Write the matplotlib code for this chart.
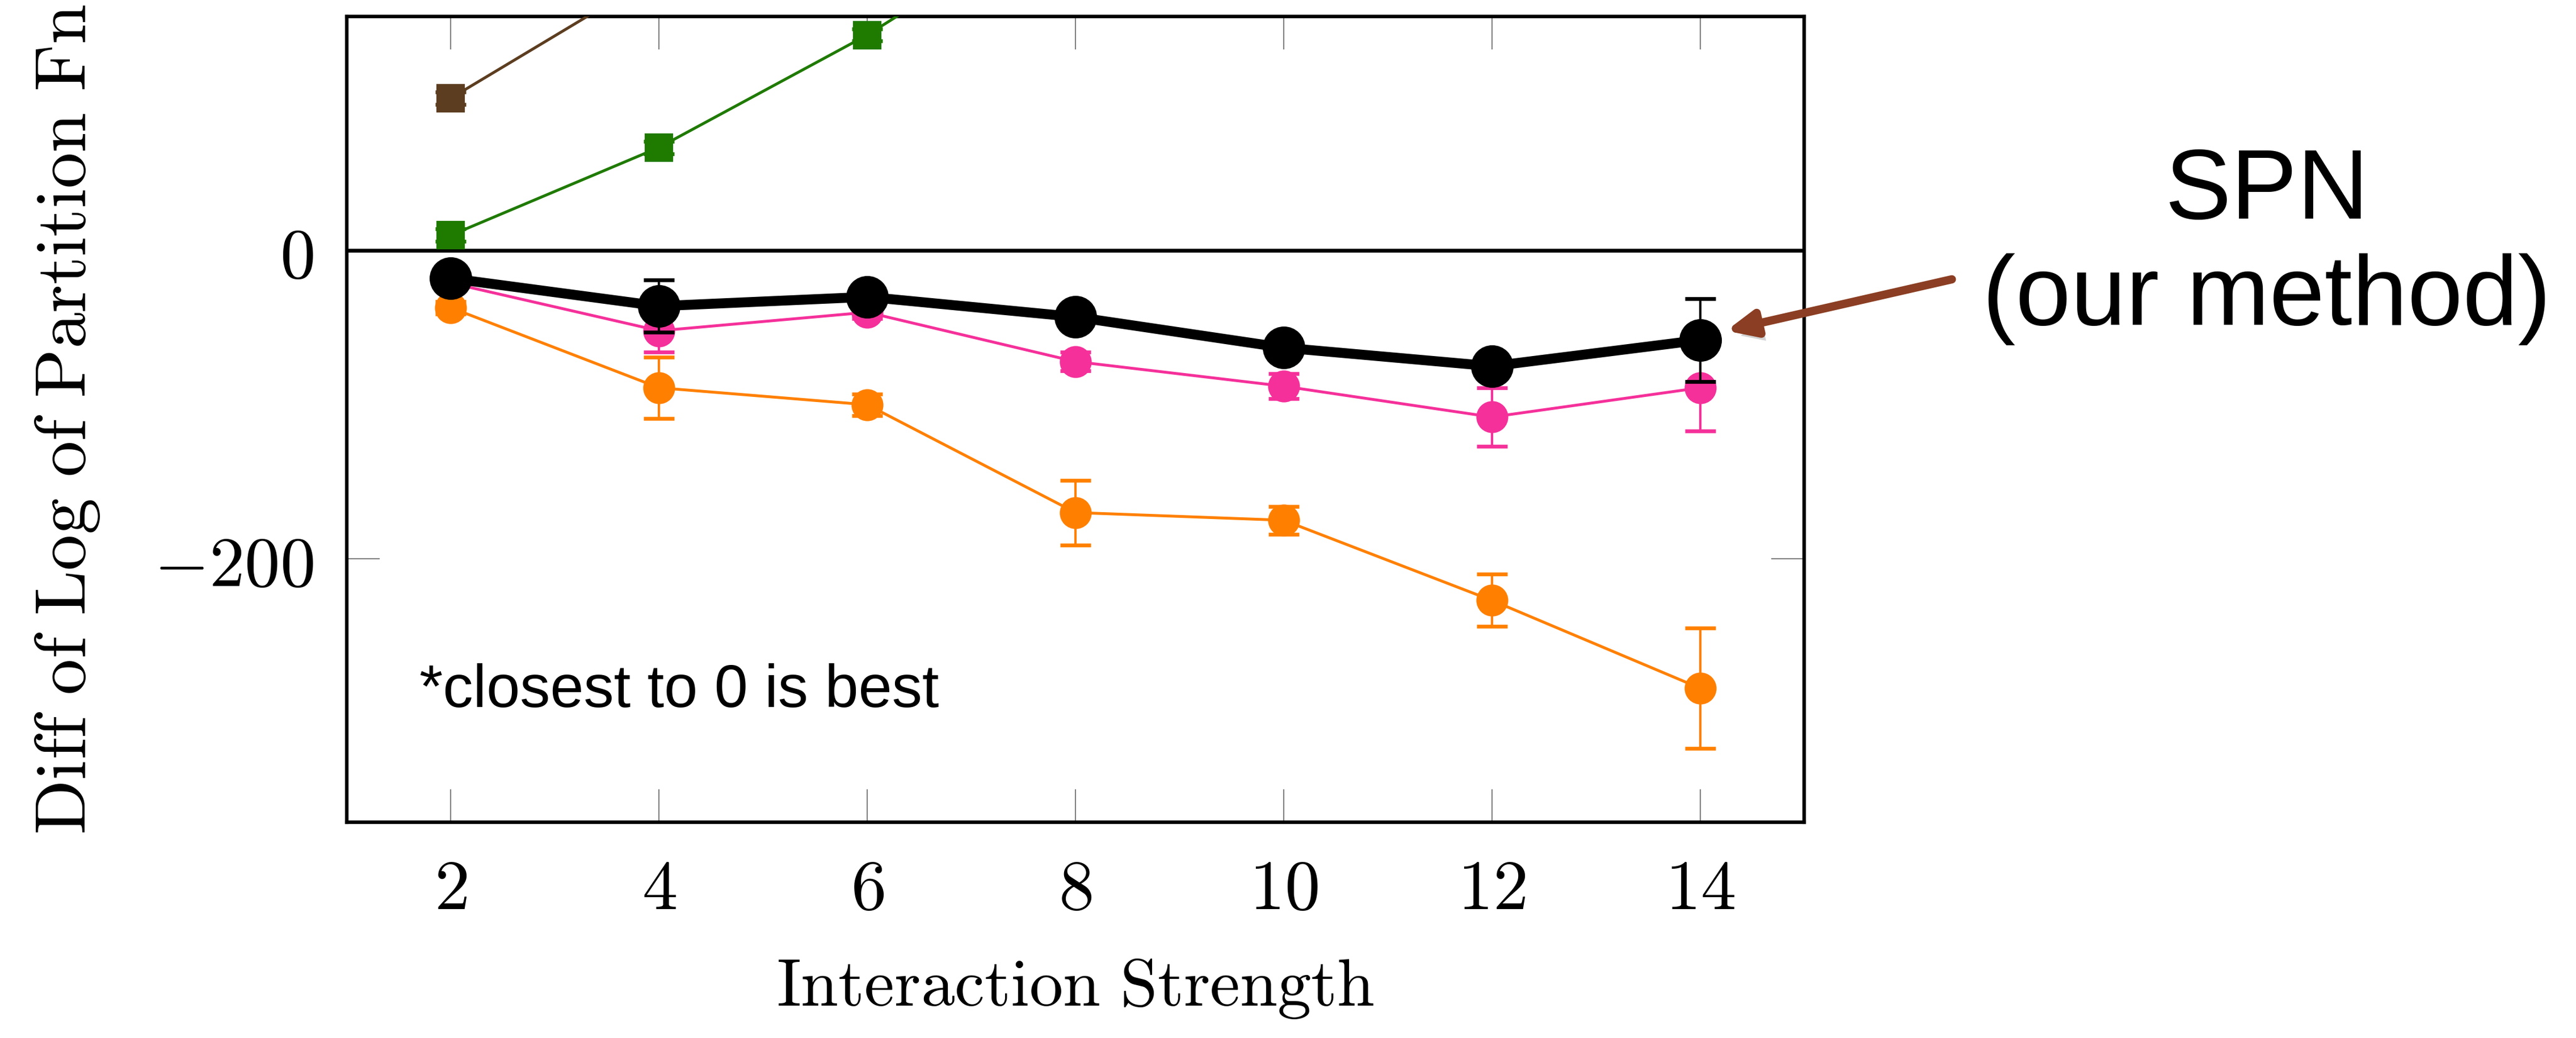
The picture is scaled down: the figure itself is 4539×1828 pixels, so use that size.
import matplotlib.pyplot as plt
import matplotlib.patheffects as pe
import numpy as np

plt.rcParams['mathtext.fontset'] = 'cm'

# data
strength = [2, 4, 6, 8, 10, 12, 14]
spn = [-18, -36, -30, -43, -63, -75, -58]
spn_err = [4, 17, 5, 5, 5, 5, 27]
pink_vals = [-21, -52, -40, -72, -88, -108, -89]
pink_err = [4, 14, 4, 6, 8, 19, 28]
orange_vals = [-37, -89, -100, -170, -175, -227, -284]
orange_err = [4, 20, 7, 21, 9, 17, 39]
green_x = [2, 4, 6, 8]
green_vals = [10, 67, 140, 225]
green_err = [4, 4, 4, 4]
brown_x = [2, 4]
brown_vals = [99, 180]
brown_err = [4, 4]

xticks = [2, 4, 6, 8, 10, 12, 14]
yticks = [-200, 0]

fig = plt.figure(figsize=(4539 / 300, 1828 / 300), dpi=300)
ax = fig.add_axes([0.1346, 0.2079, 0.7004 - 0.1346, 0.9841 - 0.2079])


def series(x, y, err, color, marker, ms, lw, z):
    line, caps, bars = ax.errorbar(x, y, yerr=err, color=color, marker=marker,
                                   markersize=ms, lw=lw, ecolor=color,
                                   elinewidth=1.0, capsize=6.5, capthick=1.6,
                                   zorder=z)
    for c in caps:
        c.set_color('black')
        c.set_zorder(z - 0.5)
    return line


series(brown_x, brown_vals, brown_err, '#5C3D1F', 's', 11, 1.2, 3)
series(green_x, green_vals, green_err, '#1F7A00', 's', 11, 1.2, 3)
series(strength, orange_vals, orange_err, '#FF8000', 'o', 12.5, 1.2, 4)
series(strength, pink_vals, pink_err, '#F5309A', 'o', 12.5, 1.2, 5)
series(strength, spn, spn_err, 'black', 'o', 17, 4.2, 6)

ax.axhline(0, color='black', lw=1.6, zorder=2)

ax.set_xlim(1, 15)
ax.set_ylim(-371, 152)
ax.set_xticks(xticks)
ax.set_xticklabels([f'${v}$' for v in xticks])
ax.set_yticks(yticks)
ax.set_yticklabels([f'${v}$' for v in yticks])
ax.tick_params(direction='in', length=14, width=0.5, color='gray',
               top=True, right=True, labelsize=30, pad=14)
for s in ax.spines.values():
    s.set_linewidth(1.5)

ax.set_xlabel(r'$\mathrm{Interaction\ Strength}$', fontsize=28.5, labelpad=13)
ax.set_ylabel(r'$\mathrm{Diff\ of\ Log\ of\ Partition\ Fn}$', fontsize=30.5,
              labelpad=22)

ax.text(1.7, -286, '*closest to 0 is best', family='Liberation Sans',
        fontsize=25.5, ha='left', va='center')

fig.text(0.880, 0.763, 'SPN\n(our method)', family='Liberation Sans',
         fontsize=42, ha='center', va='center', linespacing=1.2)

arr = ax.annotate('', xy=(14.25, -52), xycoords='data',
                  xytext=(0.7577, 0.7309), textcoords='figure fraction',
                  arrowprops=dict(arrowstyle='-|>,head_length=1.0,head_width=0.45',
                                  color='#8B3E23', lw=3.5, shrinkA=0, shrinkB=0),
                  annotation_clip=False, zorder=10)
arr.arrow_patch.set_path_effects([
    pe.SimplePatchShadow(offset=(2, -3), shadow_rgbFace='gray', alpha=0.35),
    pe.Normal()])

fig.savefig('out.png', dpi=300)
